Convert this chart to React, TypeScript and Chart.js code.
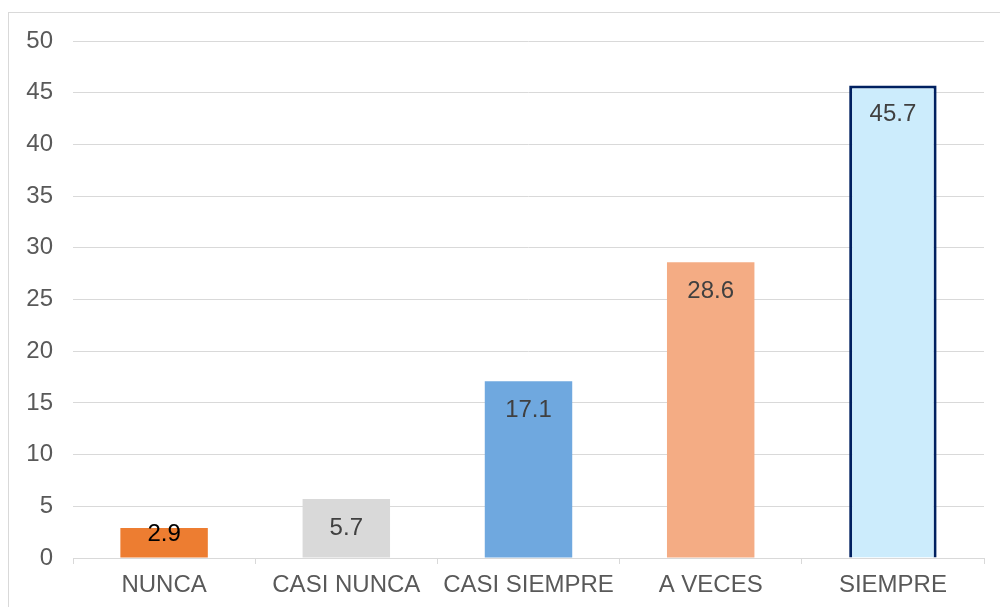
import React, { useEffect, useRef } from "react";
import { Chart, registerables } from "chart.js";

Chart.register(...registerables);

const categories = ["NUNCA", "CASI NUNCA", "CASI SIEMPRE", "A VECES", "SIEMPRE"];
const values = [2.9, 5.7, 17.1, 28.6, 45.7];
const barColors = ["#ED7D31", "#D9D9D9", "#6FA8DF", "#F4AC84", "#CCECFC"];
const borderColors = ["#ED7D31", "#D9D9D9", "#6FA8DF", "#F4AC84", "#002060"];
const borderWidths = [0, 0, 0, 0, 3];
const labelColors = ["#000000", "#404040", "#404040", "#404040", "#404040"];

const FONT = "'Liberation Sans', Arial, sans-serif";

const framePlugin = {
  id: "frame",
  beforeDraw(chart: any) {
    const ctx = chart.ctx;
    ctx.save();
    ctx.strokeStyle = "#D9D9D9";
    ctx.lineWidth = 1;
    ctx.strokeRect(8.5, 12.5, 1100, 700);
    ctx.restore();
  },
};

const labelPlugin = {
  id: "valueLabels",
  afterDatasetsDraw(chart: any) {
    const ctx = chart.ctx;
    const meta = chart.getDatasetMeta(0);
    ctx.save();
    ctx.font = `24px ${FONT}`;
    ctx.textAlign = "center";
    ctx.textBaseline = "alphabetic";
    meta.data.forEach((bar: any, i: number) => {
      ctx.fillStyle = labelColors[i];
      const y = Math.min(bar.y + 36, bar.base - 17);
      ctx.fillText(String(values[i]), bar.x, y);
    });
    ctx.restore();
  },
};

export default function App() {
  const ref = useRef<HTMLCanvasElement | null>(null);
  useEffect(() => {
    if (!ref.current) return;
    const chart = new Chart(ref.current, {
      type: "bar",
      data: {
        labels: categories,
        datasets: [
          {
            data: values,
            backgroundColor: barColors,
            borderColor: borderColors,
            borderWidth: borderWidths,
            categoryPercentage: 1,
            barPercentage: 0.48,
          },
        ],
      },
      options: {
        animation: false,
        responsive: false,
        maintainAspectRatio: false,
        layout: { padding: { top: 41, right: 16, left: 0, bottom: 0 } },
        plugins: { legend: { display: false }, tooltip: { enabled: false } },
        scales: {
          x: {
            grid: {
              display: true,
              drawOnChartArea: false,
              drawTicks: true,
              tickLength: 6,
              color: "#D9D9D9",
              offset: true,
            },
            border: { display: true, color: "#D9D9D9", width: 1 },
            ticks: {
              color: "#595959",
              font: { size: 24, family: FONT },
              padding: 7,
              maxRotation: 0,
              autoSkip: false,
            },
            afterFit: (s: any) => {
              s.height = 49;
            },
          },
          y: {
            min: 0,
            max: 50,
            ticks: {
              stepSize: 5,
              color: "#595959",
              font: { size: 24, family: FONT },
              padding: 20,
            },
            grid: { color: "#D9D9D9", drawTicks: false, lineWidth: 1 },
            border: { display: false },
            afterFit: (s: any) => {
              s.width = 73;
            },
          },
        },
      },
      plugins: [framePlugin, labelPlugin],
    });
    return () => chart.destroy();
  }, []);
  return (
    <div style={{ position: "fixed", left: 0, top: 0, width: 1000, height: 607, background: "#fff" }}>
      <canvas ref={ref} width={1000} height={607} style={{ display: "block" }} />
    </div>
  );
}
